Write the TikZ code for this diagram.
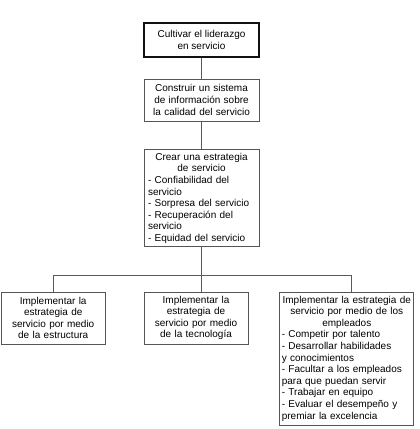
\documentclass[tikz,border=0pt]{standalone}
\usepackage{fontspec}
\setmainfont{Liberation Sans}
\usepackage{xcolor}
\usetikzlibrary{positioning}
\definecolor{ink}{HTML}{111111}
\definecolor{frame}{HTML}{555555}
\definecolor{wire}{HTML}{5A5A5A}
\newcommand{\lft}[1]{\makebox[\linewidth][l]{#1}}

\begin{document}
\begin{tikzpicture}[
  x=1pt,y=1pt,
  font=\fontsize{10}{11.6}\selectfont,
  topbox/.style={draw=ink,line width=1.1pt,minimum width=115pt,minimum height=34pt,align=center,inner sep=0pt},
  stage/.style={draw=frame,line width=0.8pt,text width=107pt,minimum width=115pt,align=center,inner xsep=4pt,inner ysep=2pt},
  branch/.style={draw=frame,line width=0.8pt,text width=98pt,minimum width=104pt,minimum height=52pt,align=center,inner xsep=3pt},
  link/.style={draw=wire,line width=0.8pt}
]
\useasboundingbox (0,0) rectangle (420,-429);
\node[topbox] (lider) at (201.5,-40) {Cultivar el liderazgo\\en servicio};
\node[stage,minimum height=42pt,below=21pt of lider] (sistema) {Construir un sistema\\de información sobre\\la calidad del servicio};
\node[stage,minimum height=97pt,below=28pt of sistema] (estrategia) {Crear una estrategia\\de servicio\\
  \lft{- Confiabilidad del}\\\lft{servicio}\\\lft{- Sorpresa del servicio}\\
  \lft{- Recuperación del}\\\lft{servicio}\\\lft{- Equidad del servicio}};
\node[branch] (tecnologia) at (196,-318) {Implementar la\\estrategia de\\servicio por medio\\de la tecnología};
\node[branch,left=38pt of tecnologia] (estructura) {Implementar la\\estrategia de\\servicio por medio\\de la estructura};
\node[branch,text width=130pt,minimum width=134pt,minimum height=133pt,inner xsep=2pt,anchor=north west] (empleados) at ([xshift=31pt]tecnologia.north east) {Implementar la estrategia de\\servicio por medio de los\\empleados\\
  \lft{- Competir por talento}\\\lft{- Desarrollar habilidades}\\\lft{y conocimientos}\\
  \lft{- Facultar a los empleados}\\\lft{para que puedan servir}\\\lft{- Trabajar en equipo}\\
  \lft{- Evaluar el desempeño y}\\\lft{premiar la excelencia}};
\coordinate (split) at (estrategia.south |- 0,-275.5);
\draw[link] (lider) -- (sistema);
\draw[link] (sistema) -- (estrategia);
\draw[link] (estrategia) -- (split |- tecnologia.north);
\draw[link] (estructura.north) |- (split) -| ([xshift=5pt]empleados.north);
\end{tikzpicture}
\end{document}
